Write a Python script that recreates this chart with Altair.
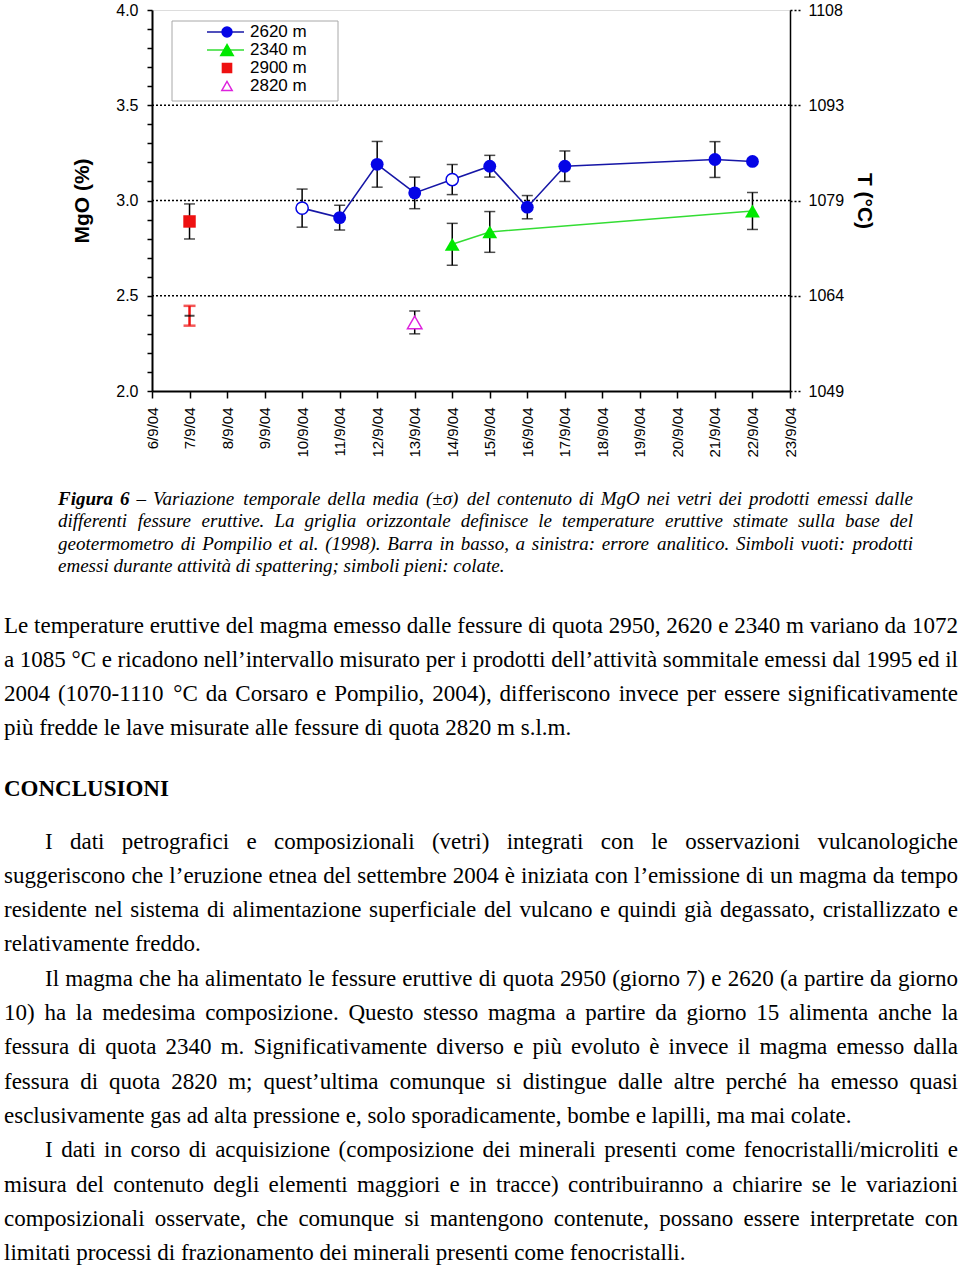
import unicodedata
import pandas as pd
import altair as alt

# ---------------- chart values ----------------
x_days = [6, 7, 8, 9, 10, 11, 12, 13, 14, 15, 16, 17, 18, 19, 20, 21, 22, 23]
y_ticks = [2.0, 2.1, 2.2, 2.3, 2.4, 2.5, 2.6, 2.7, 2.8, 2.9, 3.0,
           3.1, 3.2, 3.3, 3.4, 3.5, 3.6, 3.7, 3.8, 3.9, 4.0]
mgo_major = [2.0, 2.5, 3.0, 3.5, 4.0]
grid_levels = [2.5, 3.0, 3.5]
temp_labels = ['1049', '1064', '1079', '1093', '1108']

days_2620 = [10, 11, 12, 13, 14, 15, 16, 17, 21, 22]
mgo_2620 = [2.96, 2.91, 3.19, 3.04, 3.11, 3.18, 2.965, 3.18, 3.215, 3.205]
sd_2620 = [0.10, 0.065, 0.12, 0.083, 0.079, 0.057, 0.061, 0.08, 0.094, 0.015]
open_2620 = [True, False, False, False, True, False, False, False, False, False]

days_2340 = [14, 15, 22]
mgo_2340 = [2.77, 2.835, 2.945]
sd_2340 = [0.11, 0.107, 0.097]

days_2900 = [7]
mgo_2900 = [2.89]
sd_2900 = [0.092]

days_2820 = [13]
mgo_2820 = [2.36]
sd_2820 = [0.06]

err_day = [7]
err_center = [2.395]
err_half = [0.052]

legend_labels = ['2620 m', '2340 m', '2900 m', '2820 m']

caption_lines = [
    "Figura 6 – Variazione temporale della media (±σ) del contenuto di MgO nei vetri dei prodotti emessi dalle",
    "differenti fessure eruttive. La griglia orizzontale definisce le temperature eruttive stimate sulla base del",
    "geotermometro di Pompilio et al. (1998). Barra in basso, a sinistra: errore analitico. Simboli vuoti: prodotti",
    "emessi durante attività di spattering; simboli pieni: colate.",
]
para1 = [
    "Le temperature eruttive del magma emesso dalle fessure di quota 2950, 2620 e 2340 m variano da 1072",
    "a 1085 °C e ricadono nell’intervallo misurato per i prodotti dell’attività sommitale emessi dal 1995 ed il",
    "2004 (1070-1110 °C da Corsaro e Pompilio, 2004), differiscono invece per essere significativamente",
    "più fredde le lave misurate alle fessure di quota 2820 m s.l.m.",
]
heading = "CONCLUSIONI"
para2 = [
    "I dati petrografici e composizionali (vetri) integrati con le osservazioni vulcanologiche",
    "suggeriscono che l’eruzione etnea del settembre 2004 è iniziata con l’emissione di un magma da tempo",
    "residente nel sistema di alimentazione superficiale del vulcano e quindi già degassato, cristallizzato e",
    "relativamente freddo.",
]
para3 = [
    "Il magma che ha alimentato le fessure eruttive di quota 2950 (giorno 7) e 2620 (a partire da giorno",
    "10) ha la medesima composizione. Questo stesso magma a partire da giorno 15 alimenta anche la",
    "fessura di quota 2340 m. Significativamente diverso e più evoluto è invece il magma emesso dalla",
    "fessura di quota 2820 m; quest’ultima comunque si distingue dalle altre perché ha emesso quasi",
    "esclusivamente gas ad alta pressione e, solo sporadicamente, bombe e lapilli, ma mai colate.",
]
para4 = [
    "I dati in corso di acquisizione (composizione dei minerali presenti come fenocristalli/microliti e",
    "misura del contenuto degli elementi maggiori e in tracce) contribuiranno a chiarire se le variazioni",
    "composizionali osservate, che comunque si mantengono contenute, possano essere interpretate con",
    "limitati processi di frazionamento dei minerali presenti come fenocristalli.",
]

# ---------------- styles ----------------
BLUE = '#0505e6'
BLUE_LINE = '#1616a6'
GREEN = '#00e800'
GREEN_LINE = '#33dd33'
RED = '#ee1111'
MAGENTA = '#dd22dd'
SANS = 'Liberation Sans'
SERIF = 'Liberation Serif'

# page placement of the plot area
OX, OY = 152, 10
W, H = 638, 381

# ---------------- text metrics (Times-compatible) ----------------
low = 'abcdefghijklmnopqrstuvwxyz'
up = 'ABCDEFGHIJKLMNOPQRSTUVWXYZ'
REG = dict(zip(low, [444, 500, 444, 500, 444, 333, 500, 500, 278, 278, 500, 278, 778,
                     500, 500, 500, 500, 333, 389, 278, 500, 500, 722, 500, 500, 444]))
REG.update(zip(up, [722, 667, 667, 722, 611, 556, 722, 722, 333, 389, 722, 611, 889,
                    722, 722, 556, 722, 667, 556, 611, 722, 722, 944, 722, 722, 611]))
ITA = dict(zip(low, [500, 500, 444, 500, 444, 278, 500, 500, 278, 278, 444, 278, 722,
                     500, 500, 500, 500, 389, 389, 278, 500, 444, 667, 444, 444, 389]))
ITA.update(zip(up, [611, 611, 667, 722, 611, 611, 722, 722, 333, 444, 667, 556, 833,
                    667, 722, 611, 722, 611, 500, 556, 722, 611, 833, 611, 556, 556]))
common = {' ': 250, ',': 250, '.': 250, '(': 333, ')': 333, '-': 333, '/': 278,
          '’': 333, '°': 400, '–': 500, '±': 564, 'σ': 550}
for d in '0123456789':
    common[d] = 500
REG.update(common)
ITA.update(common)
REG.update({':': 278, ';': 278})
ITA.update({':': 333, ';': 333})
BI = dict(ITA)
BI.update({'F': 667, 'u': 556})


def cw(ch, table):
    if ch in table:
        return table[ch]
    base = unicodedata.normalize('NFD', ch)[0]
    return table.get(base, 500)


def ww(word, table, fs):
    return sum(cw(c, table) for c in word) * fs / 1000.0


rows = []


def set_par(lines, left, right, indent, y0, step, fs, table, grp, bold_n=0, bold_table=None):
    for i, line in enumerate(lines):
        y = y0 + i * step
        x0 = left + (indent if i == 0 else 0)
        if i == len(lines) - 1:
            rows.append(dict(t=line, px=x0, py=y, grp=grp + '_L'))
            continue
        words = line.split(' ')
        widths = []
        for j, w in enumerate(words):
            tb = bold_table if (i == 0 and j < bold_n) else table
            widths.append(ww(w, tb, fs))
        gap = (right - x0 - sum(widths)) / (len(words) - 1)
        x = x0
        for j, w in enumerate(words):
            if i == 0 and j < bold_n:
                g = grp + '_B'
            elif j == len(words) - 1:
                g = grp + '_R'
            else:
                g = grp + '_L'
            rows.append(dict(t=w, px=(right if g.endswith('_R') else x), py=y, grp=g))
            x += widths[j] + gap


FS_BODY = 23
FS_CAP = 19
STEP = 34.33
set_par(caption_lines, 58, 913, 0, 505, 22.3, FS_CAP, ITA, 'cap', bold_n=2, bold_table=BI)
set_par(para1, 4, 958, 0, 632.5, STEP, FS_BODY, REG, 'body')
rows.append(dict(t=heading, px=4, py=796, grp='head'))
y_p2 = 848.5
set_par(para2, 4, 958, 41, y_p2, STEP, FS_BODY, REG, 'body')
set_par(para3, 4, 958, 41, y_p2 + 4 * STEP, STEP, FS_BODY, REG, 'body')
set_par(para4, 4, 958, 41, y_p2 + 9 * STEP, STEP, FS_BODY, REG, 'body')

txt = pd.DataFrame(rows)
txt['vx'] = txt['px'] - OX
txt['vy'] = txt['py'] - OY


def text_layer(grp, align, style, weight, fs):
    d = txt[txt['grp'] == grp]
    return alt.Chart(d).mark_text(
        align=align, baseline='alphabetic', font=SERIF, fontSize=fs,
        fontStyle=style, fontWeight=weight, color='black'
    ).encode(
        x=alt.X('vx:Q', scale=None, axis=None),
        y=alt.Y('vy:Q', scale=None, axis=None),
        text=alt.Text('t:N'),
    )


text_layers = [
    text_layer('cap_L', 'left', 'italic', 'normal', FS_CAP),
    text_layer('cap_R', 'right', 'italic', 'normal', FS_CAP),
    text_layer('cap_B', 'left', 'italic', 'bold', FS_CAP),
    text_layer('body_L', 'left', 'normal', 'normal', FS_BODY),
    text_layer('body_R', 'right', 'normal', 'normal', FS_BODY),
    text_layer('head', 'left', 'normal', 'bold', FS_BODY),
]

# ---------------- plot data ----------------
df26 = pd.DataFrame(dict(day=days_2620, mgo=mgo_2620, sd=sd_2620, open=open_2620))
df23 = pd.DataFrame(dict(day=days_2340, mgo=mgo_2340, sd=sd_2340))
df29 = pd.DataFrame(dict(day=days_2900, mgo=mgo_2900, sd=sd_2900))
df28 = pd.DataFrame(dict(day=days_2820, mgo=mgo_2820, sd=sd_2820))
err = pd.concat([df26[['day', 'mgo', 'sd']], df23, df29, df28], ignore_index=True)
err['lo'] = err['mgo'] - err['sd']
err['hi'] = err['mgo'] + err['sd']
ana = pd.DataFrame(dict(day=err_day, mgo=err_center, half=err_half))
ana['lo'] = ana['mgo'] - ana['half']
ana['hi'] = ana['mgo'] + ana['half']
df_right = pd.DataFrame(dict(day=[6] * len(mgo_major), mgo=mgo_major))
df_grid = pd.DataFrame(dict(mgo=grid_levels))

xsc = alt.Scale(domain=[6, 23], nice=False, zero=False)
ysc = alt.Scale(domain=[2, 4], nice=False, zero=False)

x_axis = alt.Axis(
    values=x_days, labelExpr="format(datum.value, 'd') + '/9/04'", labelAngle=270,
    labelFont=SANS, labelFontSize=15, labelColor='black', labelPadding=9,
    labelOverlap=False, labelFlush=False, labelBound=False,
    tickSize=7, tickColor='black', tickWidth=1.5,
    domainColor='black', domainWidth=2, grid=False, title=None, orient='bottom')
left_axis = alt.Axis(
    values=y_ticks, orient='left',
    labelExpr="indexof(['2.0','2.5','3.0','3.5','4.0'], format(datum.value, '.1f')) >= 0 ? format(datum.value, '.1f') : ''",
    labelFont=SANS, labelFontSize=16, labelColor='black', labelPadding=9,
    labelOverlap=False, labelFlush=False,
    tickSize=5, tickColor='black', tickWidth=1.5,
    domainColor='black', domainWidth=2, grid=False,
    title='MgO (%)', titleFont=SANS, titleFontSize=21, titleFontWeight='bold',
    titleColor='black', titlePadding=23)
right_expr = " : ".join(f"datum.value == {v} ? '{t}'" for v, t in zip(mgo_major, temp_labels)) + " : ''"
right_axis = alt.Axis(
    values=mgo_major, orient='right', labelExpr=right_expr,
    labelFont=SANS, labelFontSize=16, labelColor='black', labelPadding=8,
    labelOverlap=False, labelFlush=False,
    tickSize=10, tickColor='black', tickWidth=1.5, tickDash=[2, 2],
    domainColor='black', domainWidth=1.5, grid=False,
    title='T (°C)', titleFont=SANS, titleFontSize=21, titleFontWeight='bold',
    titleColor='black', titleAngle=90, titlePadding=10)

X = alt.X('day:Q', scale=xsc, axis=x_axis)


def Yn(field):
    return alt.Y(field, type='quantitative', scale=ysc, axis=None)


grid = alt.Chart(df_grid).mark_rule(color='black', strokeWidth=1.5, strokeDash=[2, 2]).encode(
    y=Yn('mgo'))
err_rules = alt.Chart(err).mark_rule(color='black', strokeWidth=1.5).encode(
    x=X, y=alt.Y('lo:Q', scale=ysc, axis=left_axis), y2='hi:Q')
err_caps = alt.Chart(err).transform_fold(['lo', 'hi'], as_=['k', 'v']).mark_tick(
    orient='horizontal', color='black', thickness=1.5, size=11).encode(x=X, y=Yn('v'))

ana_rule = alt.Chart(ana).mark_rule(color=RED, strokeWidth=2.5).encode(x=X, y=Yn('lo'), y2='hi:Q')
ana_caps = alt.Chart(ana).transform_fold(['lo', 'hi'], as_=['k', 'v']).mark_tick(
    orient='horizontal', color=RED, thickness=2.5, size=12).encode(x=X, y=Yn('v'))
ana_mid = alt.Chart(ana).mark_tick(orient='horizontal', color='black', thickness=2, size=10).encode(
    x=X, y=Yn('mgo'))

line26 = alt.Chart(df26).mark_line(color=BLUE_LINE, strokeWidth=1.6).encode(x=X, y=Yn('mgo'), order='day:Q')
line23 = alt.Chart(df23).mark_line(color=GREEN_LINE, strokeWidth=1.6).encode(x=X, y=Yn('mgo'), order='day:Q')

pts26_f = alt.Chart(df26).transform_filter('!datum.open').mark_point(
    shape='circle', filled=True, color=BLUE, size=165, opacity=1).encode(x=X, y=Yn('mgo'))
pts26_o = alt.Chart(df26).transform_filter('datum.open').mark_point(
    shape='circle', filled=True, fill='white', stroke=BLUE, strokeWidth=1.5, size=150, opacity=1
).encode(x=X, y=Yn('mgo'))
pts23 = alt.Chart(df23).mark_point(
    shape='triangle-up', filled=True, color=GREEN, size=220, opacity=1).encode(x=X, y=Yn('mgo'))
pts29 = alt.Chart(df29).mark_point(
    shape='square', filled=True, color=RED, size=155, opacity=1).encode(x=X, y=Yn('mgo'))
pts28 = alt.Chart(df28).mark_point(
    shape='triangle-up', filled=True, fill='white', stroke=MAGENTA, strokeWidth=1.5, size=210, opacity=1
).encode(x=X, y=Yn('mgo'))

right_layer = alt.Chart(df_right).mark_point(opacity=0).encode(
    x=X, y=alt.Y('mgo:Q', scale=ysc, axis=right_axis))

plot = alt.layer(
    err_rules, right_layer, grid, err_caps, ana_rule, ana_caps, ana_mid,
    line26, line23, pts26_f, pts26_o, pts23, pts29, pts28
).resolve_axis(y='independent')

# ---------------- legend (drawn from series styles) ----------------
leg_style = {
    '2620 m': dict(color=BLUE, line=BLUE_LINE, shape='circle', fill=BLUE, size=100),
    '2340 m': dict(color=GREEN, line=GREEN_LINE, shape='triangle-up', fill=GREEN, size=160),
    '2900 m': dict(color=RED, line=None, shape='square', fill=RED, size=85),
    '2820 m': dict(color=MAGENTA, line=None, shape='triangle-up', fill='white', size=110),
}
box_x, box_y, box_w, box_h = 172 - OX, 21 - OY, 166, 80
row0, row_step = 32 - OY, 18
leg = pd.DataFrame([
    dict(label=lab, vy=row0 + i * row_step, sx=227 - OX, lx1=207 - OX, lx2=244 - OX, tx=250 - OX,
         color=leg_style[lab]['color'], lcolor=leg_style[lab]['line'] or 'none',
         hasline=leg_style[lab]['line'] is not None, shape=leg_style[lab]['shape'],
         fill=leg_style[lab]['fill'], size=leg_style[lab]['size'])
    for i, lab in enumerate(legend_labels)
])
leg_box = alt.Chart(pd.DataFrame({'a': [0]})).mark_rect(
    fill='white', stroke='#a8a8a8', strokeWidth=1).encode(
    x=alt.value(box_x), x2=alt.value(box_x + box_w), y=alt.value(box_y), y2=alt.value(box_y + box_h))
leg_lines = alt.Chart(leg).transform_filter('datum.hasline').mark_rule(strokeWidth=1.5).encode(
    x=alt.X('lx1:Q', scale=None, axis=None), x2='lx2:Q',
    y=alt.Y('vy:Q', scale=None, axis=None), color=alt.Color('lcolor:N', scale=None))
leg_syms = alt.Chart(leg).mark_point(filled=True, strokeWidth=1.4, opacity=1).encode(
    x=alt.X('sx:Q', scale=None, axis=None), y=alt.Y('vy:Q', scale=None, axis=None),
    shape=alt.Shape('shape:N', scale=None), fill=alt.Fill('fill:N', scale=None),
    stroke=alt.Stroke('color:N', scale=None), size=alt.Size('size:Q', scale=None))
leg_text = alt.Chart(leg).mark_text(
    align='left', baseline='middle', font=SANS, fontSize=17, color='black').encode(
    x=alt.X('tx:Q', scale=None, axis=None), y=alt.Y('vy:Q', scale=None, axis=None), text='label:N')

chart = alt.layer(
    plot, leg_box, leg_lines, leg_syms, leg_text, *text_layers
).resolve_scale(
    x='independent', y='independent'
).properties(
    width=W, height=H,
    autosize=alt.AutoSizeParams(type='none'),
    padding={'left': OX, 'top': OY, 'right': 960 - OX - W, 'bottom': 1269 - OY - H},
).configure_view(
    stroke='black', strokeWidth=1.5
).configure(background='white')

chart.save("out.html", embed_options={"renderer": "svg", "actions": False})
